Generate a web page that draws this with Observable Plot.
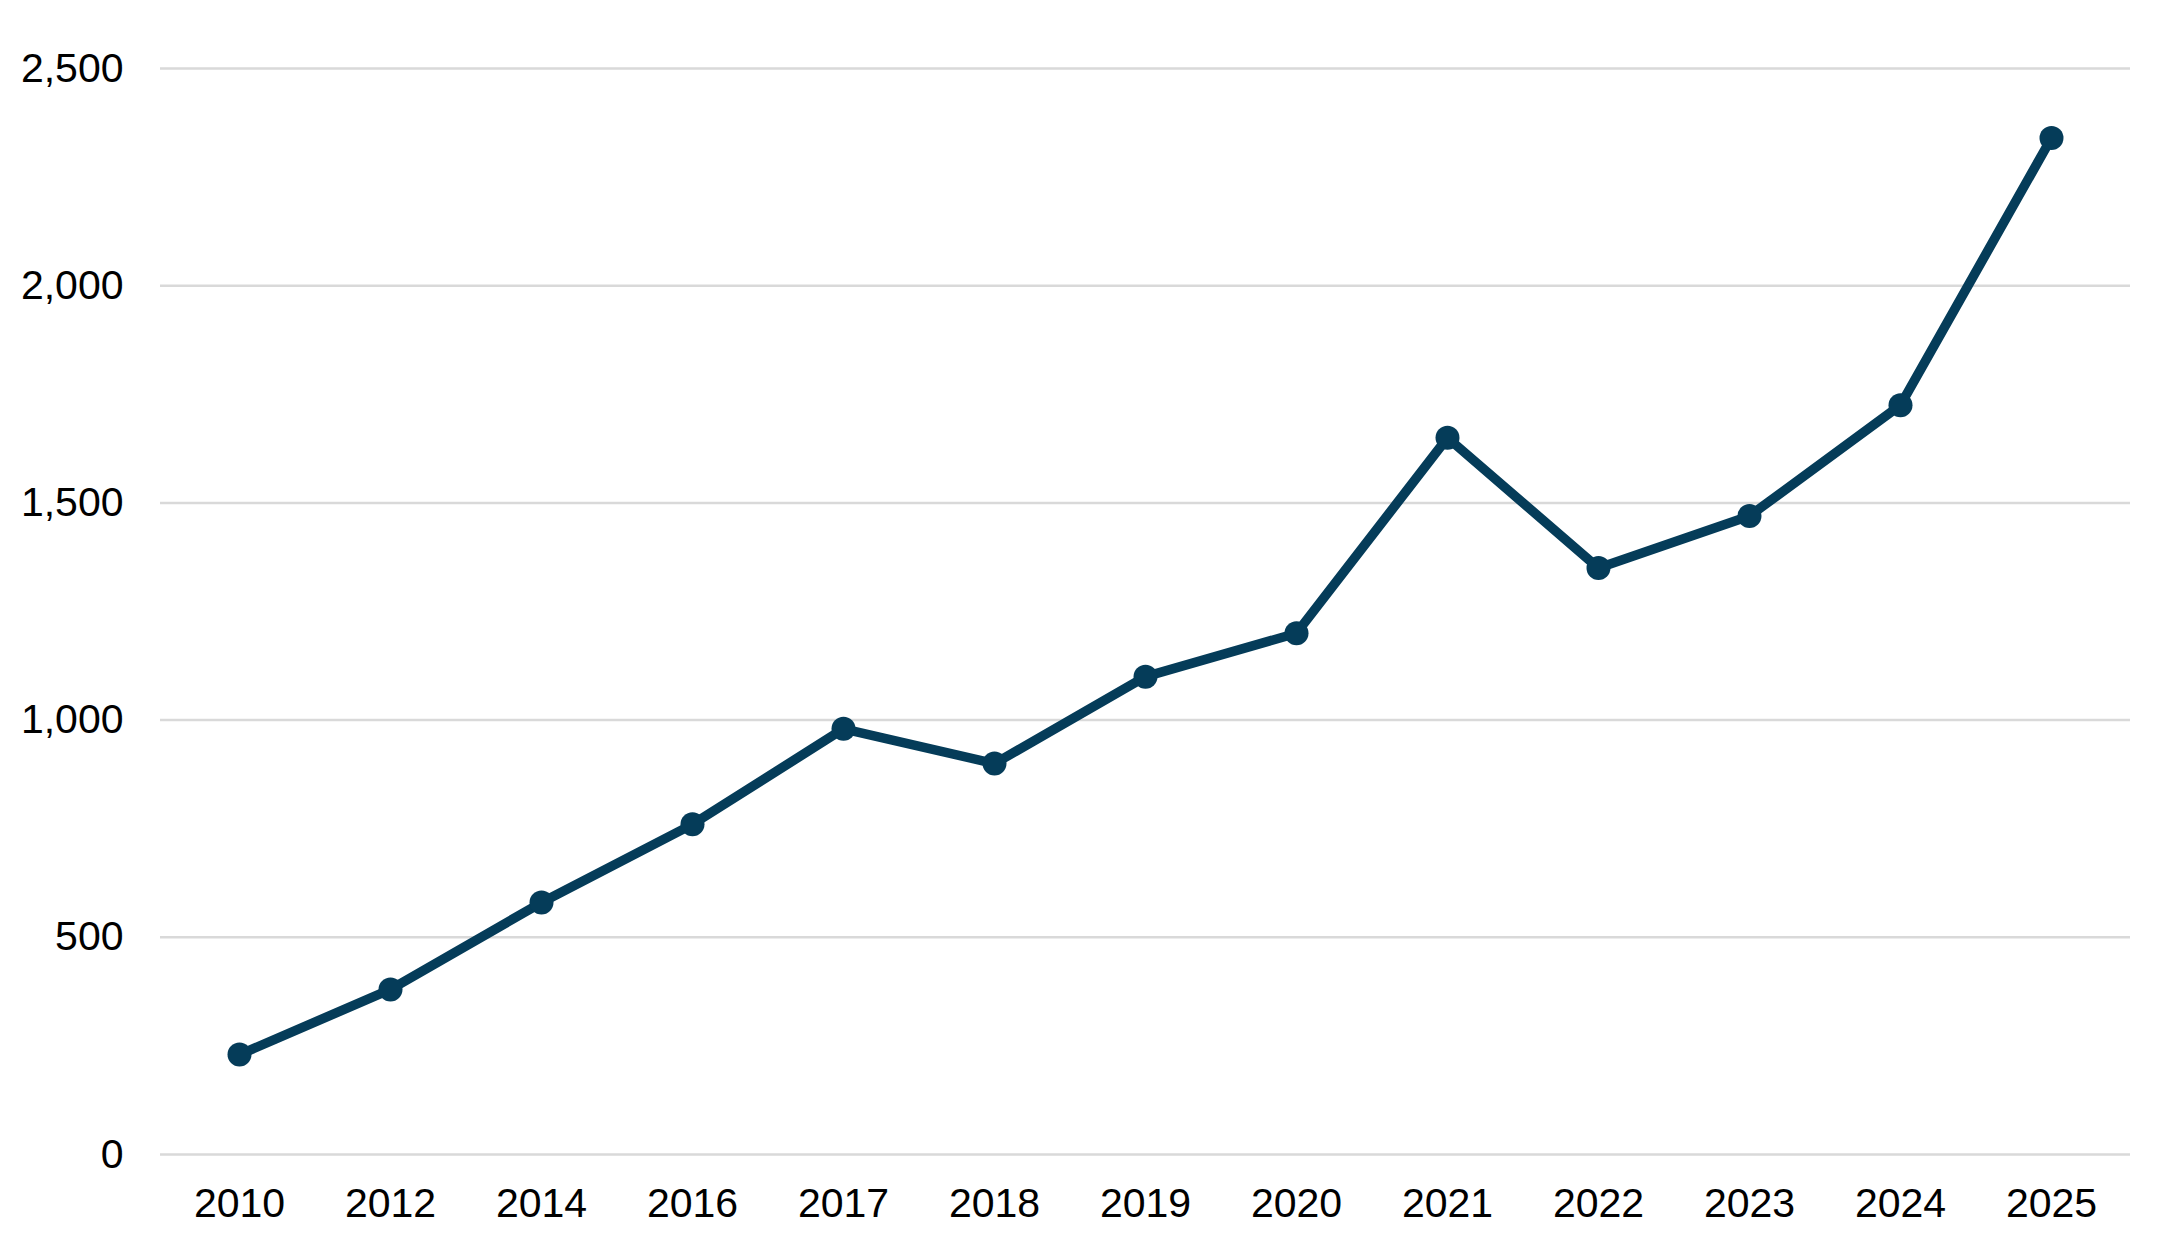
<!DOCTYPE html>
<html>
<head>
<meta charset="utf-8">
<script src="https://cdn.jsdelivr.net/npm/d3@7"></script>
<script src="https://cdn.jsdelivr.net/npm/@observablehq/plot@0.6"></script>
<style>
  html, body { margin: 0; padding: 0; background: #ffffff; }
  #chart svg { display: block; }
</style>
</head>
<body>
<div id="chart"></div>
<script>
const years = ["2010", "2012", "2014", "2016", "2017", "2018", "2019", "2020", "2021", "2022", "2023", "2024", "2025"];
const values = [230, 380, 580, 760, 980, 900, 1100, 1200, 1650, 1350, 1470, 1725, 2340];
const yTicks = [0, 500, 1000, 1500, 2000, 2500];

const data = years.map((year, i) => ({year, value: values[i]}));
const lineColor = "#053c59";
const fmt = d3.format(",");

const chart = Plot.plot({
  width: 2178,
  height: 1239,
  marginLeft: 160,
  marginRight: 48,
  marginTop: 68,
  marginBottom: 85,
  style: {fontFamily: "'Liberation Sans', Arial, sans-serif", fontSize: "41px", color: "#000", background: "#fff"},
  x: {type: "point", domain: years, padding: 0.5, label: null},
  y: {domain: [0, 2500], ticks: yTicks, label: null},
  marks: [
    Plot.ruleY(yTicks, {stroke: "#d9d9d9", strokeWidth: 2.5}),
    Plot.axisX({tickSize: 0, tickPadding: 33, label: null, fontSize: 41, fill: "#000"}),
    Plot.axisY({ticks: yTicks, tickSize: 0, tickPadding: 37, tickFormat: fmt, label: null, fontSize: 41, fill: "#000"}),
    Plot.line(data, {x: "year", y: "value", stroke: lineColor, strokeWidth: 9.5, strokeLinejoin: "round"}),
    Plot.dot(data, {x: "year", y: "value", r: 12, fill: lineColor, stroke: "none"})
  ]
});
document.getElementById("chart").appendChild(chart);
</script>
</body>
</html>
